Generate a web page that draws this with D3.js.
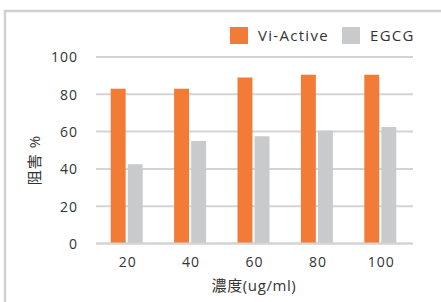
<!DOCTYPE html>
<html><head><meta charset="utf-8">
<script src="https://cdn.jsdelivr.net/npm/d3@7"></script>
<style>body{margin:0;background:#fff}svg{display:block}</style>
</head><body><svg id="c" width="441" height="302"></svg>
<script>
const categories = ["20", "40", "60", "80", "100"];
const seriesNames = ["Vi-Active", "EGCG"];
const viActive = [83, 83, 89, 90.5, 90.5];
const egcg = [42.5, 55, 57.5, 60.5, 62.5];
const yTicks = [0, 20, 40, 60, 80, 100];
const colors = ["#F27B35", "#C9CACC"];
const xTitle = "濃度(ug/ml)";
const yTitle = "阻害 %";

(function () {
const font = "'Open Sans','Noto Sans CJK JP',sans-serif";
const svg = d3.select("#c");
svg.append("path").attr("d", "M5,302 V11 H441").attr("fill", "none")
  .attr("stroke", "#d0d0d0").attr("stroke-width", 2.5);

const mLeft = 96, mRight = 413, mTop = 57, mBottom = 243.5;
const x = d3.scaleBand().domain(categories).range([mLeft, mRight]).paddingInner(0).paddingOuter(0);
const y = d3.scaleLinear().domain([0, 100]).range([mBottom, mTop]);
const x1 = d3.scaleBand().domain(seriesNames).range([0, 32]).paddingInner(4/32);

svg.append("g").selectAll("line").data(yTicks).join("line")
  .attr("x1", mLeft).attr("x2", mRight)
  .attr("y1", d => y(d)).attr("y2", d => y(d))
  .attr("stroke", "#d4d4d4").attr("stroke-width", 2);

const data = categories.map((c, i) => ({c, vals: [viActive[i], egcg[i]]}));
const g = svg.append("g").selectAll("g").data(data).join("g")
  .attr("transform", d => `translate(${x(d.c) + x.bandwidth()/2 - 17},0)`);
g.selectAll("rect").data(d => d.vals.map((v, j) => ({v, s: seriesNames[j], j})))
  .join("rect")
  .attr("x", d => x1(d.s)).attr("width", x1.bandwidth())
  .attr("y", d => y(d.v)).attr("height", d => y(0) - y(d.v))
  .attr("fill", d => colors[d.j]);

svg.append("line").attr("x1", mLeft).attr("x2", mRight).attr("y1", y(0)).attr("y2", y(0))
  .attr("stroke", "#d4d4d4").attr("stroke-width", 2);

const yAxis = d3.axisLeft(y).tickValues(yTicks).tickSize(0).tickPadding(0);
const ya = svg.append("g").attr("transform", `translate(78,0)`).call(yAxis);
ya.select(".domain").remove();
ya.selectAll("text").attr("font-family", font).attr("font-size", 14).attr("fill", "#333")
  .attr("letter-spacing", 1).attr("dy", "0.35em");

const xAxis = d3.axisBottom(x).tickSize(0).tickPadding(0);
const xa = svg.append("g").attr("transform", `translate(0,262)`).call(xAxis);
xa.select(".domain").remove();
xa.selectAll("text").attr("font-family", font).attr("font-size", 14).attr("fill", "#333")
  .attr("letter-spacing", 1).attr("dy", "0.35em");

svg.append("text").attr("x", 254).attr("y", 286).attr("dy", "0.35em").attr("text-anchor", "middle")
  .attr("font-family", font).attr("font-size", 15).attr("fill", "#333").attr("letter-spacing", 0.6).text(xTitle);
svg.append("text").attr("transform", "translate(35,160) rotate(-90)").attr("dy", "0.35em")
  .attr("text-anchor", "middle").attr("font-family", font).attr("font-size", 15).attr("fill", "#333")
  .attr("letter-spacing", 1).text(yTitle);

const legX = [230, 342];
const lg = svg.append("g").selectAll("g").data(seriesNames).join("g")
  .attr("transform", (d, i) => `translate(${legX[i]},27)`);
lg.append("rect").attr("width", 18).attr("height", 17).attr("fill", (d, i) => colors[i]);
lg.append("text").attr("x", 28).attr("y", 8.5).attr("dy", "0.35em")
  .attr("font-family", font).attr("font-size", 15).attr("fill", "#333").attr("letter-spacing", 1.3).text(d => d);
})();
</script></body></html>
